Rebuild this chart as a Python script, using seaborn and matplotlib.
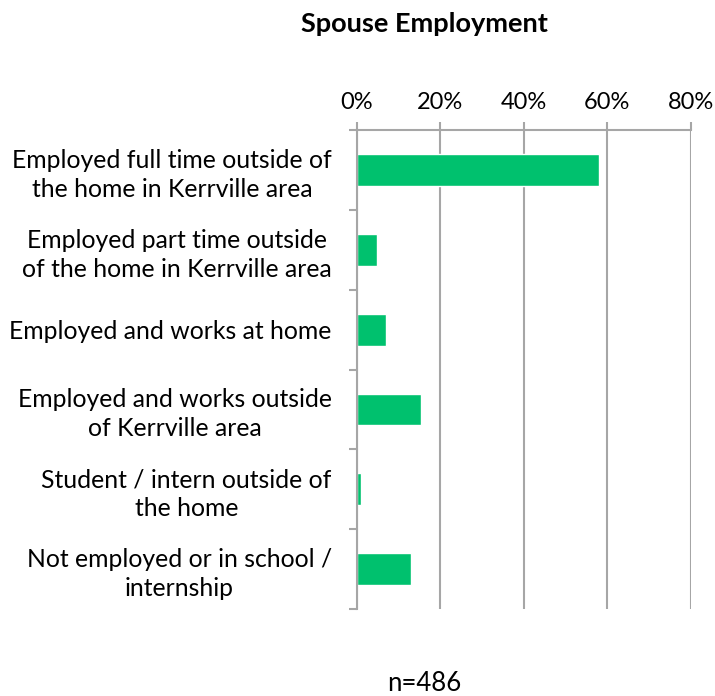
import matplotlib
matplotlib.use("Agg")
import matplotlib.pyplot as plt
import seaborn as sns
import pandas as pd
import numpy as np

categories = [
    "Employed full time outside of\nthe home in Kerrville area",
    "Employed part time outside\nof the home in Kerrville area",
    "Employed and works at home",
    "Employed and works outside\nof Kerrville area",
    "Student / intern outside of\nthe home",
    "Not employed or in school /\ninternship",
]
values = [58.0, 4.9, 7.0, 15.5, 1.0, 13.1]
xticks = [0, 20, 40, 60, 80]
xtick_labels = ["0%", "20%", "40%", "60%", "80%"]
title = "Spouse Employment"
note = "n=486"

sns.set_theme(style="white")
plt.rcParams["font.family"] = ["Lato", "DejaVu Sans"]

df = pd.DataFrame({"cat": categories, "val": values})

fig = plt.figure(figsize=(7.15, 6.96), dpi=100)
ax = fig.add_axes([0.499, 0.125, 0.467, 0.688])

sns.barplot(data=df, x="val", y="cat", color="#00C16E", width=0.4,
            saturation=1, ax=ax, orient="h")

ax.set_xlim(0, 80)
ax.set_ylim(len(categories) - 0.5, -0.5)
grid_c = "#A6A6A6"
ax.set_xticks(xticks)
ax.set_xticklabels(xtick_labels)
ax.xaxis.tick_top()
ax.xaxis.set_label_position("top")
for x in xticks:
    ax.axvline(x, color=grid_c, lw=1.5, zorder=0)
ax.tick_params(axis="x", which="both", top=True, bottom=False, length=6,
               width=1.5, color=grid_c, labelsize=17, pad=6, labelcolor="#000000")

# category labels with ticks at boundaries
ax.set_yticks(np.arange(-0.5, len(categories) + 0.5, 1.0))
ax.set_yticklabels([])
ax.tick_params(axis="y", which="major", left=True, length=6, width=1.5, color=grid_c)
ax.set_yticks(np.arange(len(categories)), minor=True)
ax.set_yticklabels(categories, minor=True, multialignment="center", linespacing=1.3)
ax.tick_params(axis="y", which="minor", left=False, length=0, labelsize=17.8,
               pad=18, labelcolor="#000000")

for s in ["right", "bottom"]:
    ax.spines[s].set_visible(False)
for s in ["top", "left"]:
    ax.spines[s].set_color(grid_c)
    ax.spines[s].set_linewidth(1.5)
ax.set_xlabel("")
ax.set_ylabel("")

fig.text(0.593, 0.966, title, ha="center", va="center", fontsize=19.5,
         fontweight="bold", color="#000000")
fig.text(0.593, 0.018, note, ha="center", va="center", fontsize=18.5, color="#000000")

fig.savefig("out.png", dpi=100)
